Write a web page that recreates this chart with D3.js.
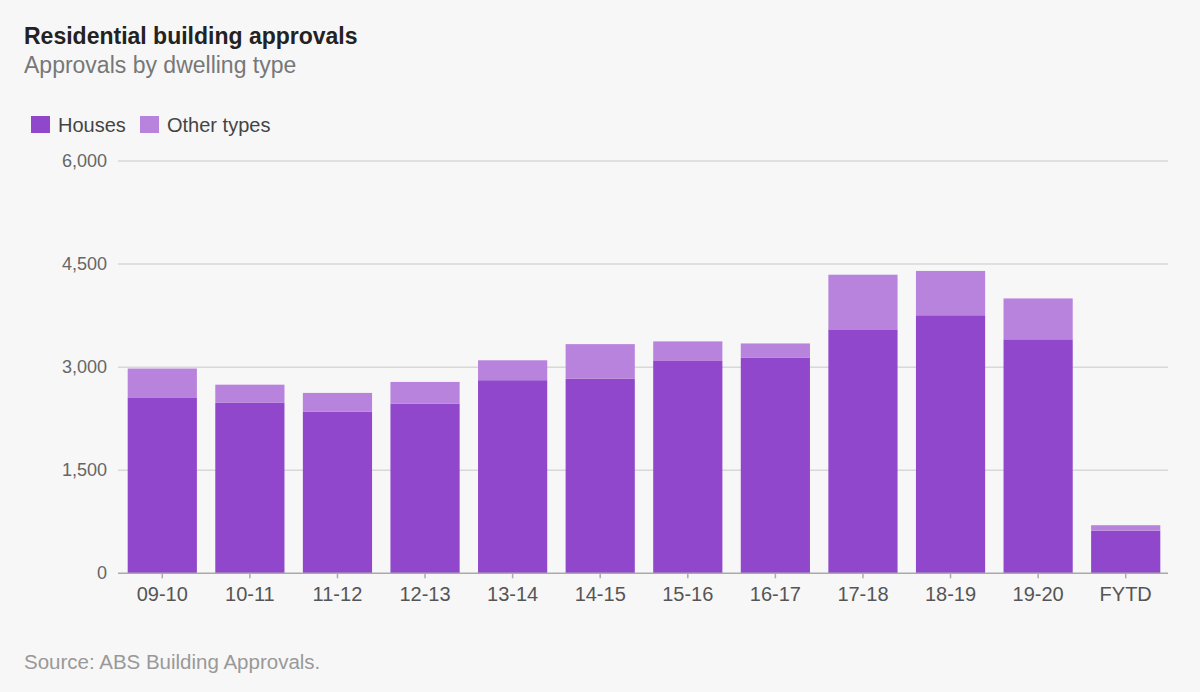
<!DOCTYPE html>
<html>
<head>
<meta charset="utf-8">
<script src="https://cdnjs.cloudflare.com/ajax/libs/d3/7.8.5/d3.min.js"></script>
<style>
  html, body { margin: 0; padding: 0; background: #f7f7f7; }
  svg { display: block; font-family: "Liberation Sans", Arial, sans-serif; }
</style>
</head>
<body>
<div id="chart"></div>
<script>
// data
var years = ["09-10","10-11","11-12","12-13","13-14","14-15","15-16","16-17","17-18","18-19","19-20","FYTD"]
var houses = [2560, 2480, 2350, 2470, 2810, 2830, 3090, 3135, 3550, 3755, 3405, 620]
var otherTypes = [420, 265, 275, 315, 290, 505, 285, 210, 795, 645, 595, 80]
var yTicks = [0, 1500, 3000, 4500, 6000]

var W = 1200, H = 692
var col_h = "#9047cb", col_o = "#b883dc"

var svg = d3.select('#chart').append('svg')
  .attr('width', W)
  .attr('height', H)

svg.append('rect').attr('width', W).attr('height', H).attr('fill', '#f7f7f7')

// titles
svg.append('text').attr('x', 24).attr('y', 44)
  .attr('font-size', 23).attr('font-weight', 'bold').attr('fill', '#222')
  .text('Residential building approvals')
svg.append('text').attr('x', 24).attr('y', 73)
  .attr('font-size', 23).attr('fill', '#777')
  .text('Approvals by dwelling type')

// legend
var leg = [{name: 'Houses', c: col_h, x: 31}, {name: 'Other types', c: col_o, x: 140}]
leg.forEach(function(d) {
  svg.append('rect').attr('x', d.x).attr('y', 116).attr('width', 19).attr('height', 17).attr('fill', d.c)
  svg.append('text').attr('x', d.x + 27).attr('y', 132)
    .attr('font-size', 20).attr('fill', '#444').text(d.name)
})

var x = d3.scaleBand().domain(years).range([118.5, 1169.5]).paddingInner(0.21).paddingOuter(0.105)
var y = d3.scaleLinear().domain([0, 6000]).range([573.3, 161])

// gridlines + y labels
var gy = svg.append('g')
yTicks.forEach(function(t) {
  if (t > 0)
    gy.append('line').attr('x1', 118).attr('x2', 1168).attr('y1', y(t)).attr('y2', y(t))
      .attr('stroke', '#d8d8d8').attr('stroke-width', 1.5)
  gy.append('text').attr('x', 107).attr('y', y(t) + 6)
    .attr('text-anchor', 'end').attr('font-size', 18).attr('fill', '#666')
    .text(d3.format(',')(t))
})

// stacked bars
var stackData = years.map(function(k, i) { return {year: k, houses: houses[i], other: otherTypes[i]} })
var series = d3.stack().keys(['houses', 'other'])(stackData)
var colors = {houses: col_h, other: col_o}

svg.selectAll('g.series').data(series).enter().append('g')
  .attr('class', 'series')
  .attr('fill', function(s) { return colors[s.key] })
  .selectAll('rect').data(function(s) { return s }).enter().append('rect')
  .attr('x', function(d) { return x(d.data.year) })
  .attr('width', x.bandwidth())
  .attr('y', function(d) { return y(d[1]) })
  .attr('height', function(d) { return y(d[0]) - y(d[1]) })

// x axis baseline, ticks, labels
svg.append('line').attr('x1', 118).attr('x2', 1168).attr('y1', y(0)).attr('y2', y(0))
  .attr('stroke', '#aaa').attr('stroke-width', 1.5)
years.forEach(function(k) {
  var cx = x(k) + x.bandwidth() / 2
  svg.append('line').attr('x1', cx).attr('x2', cx).attr('y1', y(0)).attr('y2', y(0) + 5)
    .attr('stroke', '#aaa').attr('stroke-width', 1.5)
  svg.append('text').attr('x', cx).attr('y', 601)
    .attr('text-anchor', 'middle').attr('font-size', 20).attr('fill', '#555')
    .text(k)
})

// source
svg.append('text').attr('x', 24).attr('y', 669)
  .attr('font-size', 20.5).attr('fill', '#999')
  .text('Source: ABS Building Approvals.')
</script>
</body>
</html>
